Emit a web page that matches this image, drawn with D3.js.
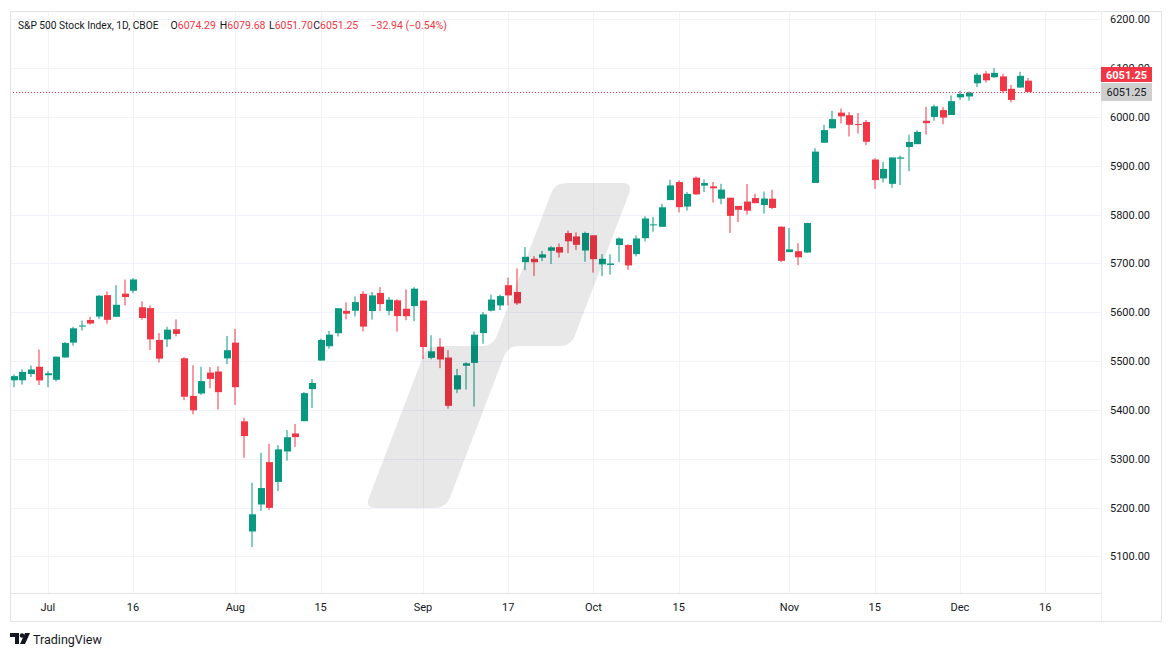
<!DOCTYPE html>
<html><head><meta charset="utf-8">
<script src="https://cdn.jsdelivr.net/npm/d3@7"></script>
<style>
html,body{margin:0;padding:0;background:#fff;}
svg{display:block;font-family:Roboto,"Noto Sans",sans-serif;}
</style></head><body>
<svg id="chart" width="1171" height="657"></svg>
<script>
const dates = [
"2024-06-25","2024-06-26","2024-06-27","2024-06-28",
"2024-07-01","2024-07-02","2024-07-03","2024-07-05","2024-07-08","2024-07-09","2024-07-10","2024-07-11","2024-07-12","2024-07-15","2024-07-16","2024-07-17","2024-07-18","2024-07-19","2024-07-22","2024-07-23","2024-07-24","2024-07-25","2024-07-26","2024-07-29","2024-07-30","2024-07-31",
"2024-08-01","2024-08-02","2024-08-05","2024-08-06","2024-08-07","2024-08-08","2024-08-09","2024-08-12","2024-08-13","2024-08-14","2024-08-15","2024-08-16","2024-08-19","2024-08-20","2024-08-21","2024-08-22","2024-08-23","2024-08-26","2024-08-27","2024-08-28","2024-08-29","2024-08-30",
"2024-09-03","2024-09-04","2024-09-05","2024-09-06","2024-09-09","2024-09-10","2024-09-11","2024-09-12","2024-09-13","2024-09-16","2024-09-17","2024-09-18","2024-09-19","2024-09-20","2024-09-23","2024-09-24","2024-09-25","2024-09-26","2024-09-27","2024-09-30",
"2024-10-01","2024-10-02","2024-10-03","2024-10-04","2024-10-07","2024-10-08","2024-10-09","2024-10-10","2024-10-11","2024-10-14","2024-10-15","2024-10-16","2024-10-17","2024-10-18","2024-10-21","2024-10-22","2024-10-23","2024-10-24","2024-10-25","2024-10-28","2024-10-29","2024-10-30","2024-10-31",
"2024-11-01","2024-11-04","2024-11-05","2024-11-06","2024-11-07","2024-11-08","2024-11-11","2024-11-12","2024-11-13","2024-11-14","2024-11-15","2024-11-18","2024-11-19","2024-11-20","2024-11-21","2024-11-22","2024-11-25","2024-11-26","2024-11-27","2024-11-29",
"2024-12-02","2024-12-03","2024-12-04","2024-12-05","2024-12-06","2024-12-09","2024-12-10","2024-12-11","2024-12-12"
];
const futureDates = ["2024-12-13","2024-12-16","2024-12-17","2024-12-18","2024-12-19","2024-12-20","2024-12-23","2024-12-24"];
const opens = [
5460.73,5460.71,5473.59,5488.48,
5471.08,5461.84,5507.44,5537.91,5572.75,5584.24,5591.26,5635.21,5590.75,5638.16,5644.09,5610.24,5608.56,5543.37,5544.54,5565.30,5505.84,5428.70,5433.67,5476.55,5478.73,5505.59,
5537.84,5376.63,5151.14,5206.42,5293.13,5252.57,5314.96,5351.88,5376.98,5442.71,5501.13,5530.50,5557.23,5602.88,5603.09,5637.77,5602.55,5639.66,5602.89,5624.51,5607.30,5612.74,
5623.89,5506.68,5529.30,5507.33,5442.07,5490.51,5496.42,5557.48,5603.34,5614.05,5655.51,5641.68,5702.63,5709.58,5711.90,5726.00,5733.57,5762.22,5755.36,5726.52,
5757.73,5698.19,5697.00,5737.81,5737.80,5719.14,5751.80,5778.36,5775.09,5829.81,5866.74,5816.58,5875.62,5859.43,5857.82,5832.70,5834.50,5817.80,5826.75,5833.93,5819.68,5832.65,5775.34,
5723.22,5725.15,5722.43,5864.89,5947.21,5976.76,6008.86,6003.60,5985.75,5989.68,5912.79,5874.17,5863.04,5914.61,5938.50,5944.36,5992.28,6000.03,6014.11,6003.98,
6040.11,6041.97,6069.00,6089.00,6081.38,6083.01,6057.59,6060.15,6074.29
];
const highs = [
5472.88,5483.14,5490.81,5523.64,
5479.55,5509.69,5539.27,5570.33,5583.11,5590.75,5635.39,5642.45,5655.56,5666.94,5669.67,5622.49,5614.05,5557.50,5570.36,5585.34,5508.04,5491.59,5488.32,5487.74,5489.46,5551.51,
5566.16,5383.89,5250.89,5312.34,5330.64,5328.03,5358.65,5371.20,5436.50,5463.22,5546.23,5561.98,5608.30,5620.51,5632.68,5643.22,5641.82,5651.62,5631.18,5627.03,5646.95,5651.37,
5623.89,5552.99,5546.93,5522.47,5484.20,5497.91,5560.41,5600.71,5636.27,5636.05,5670.81,5689.75,5733.57,5715.14,5725.36,5735.32,5741.03,5767.37,5763.78,5765.14,
5757.73,5719.14,5718.78,5753.35,5739.34,5757.60,5796.80,5795.03,5822.13,5871.41,5870.36,5846.52,5878.46,5872.17,5866.92,5863.04,5834.85,5817.80,5862.82,5842.92,5847.19,5850.94,5775.34,
5772.52,5741.43,5783.44,5936.14,5983.84,6012.45,6017.31,6009.92,6008.19,5993.88,5915.26,5908.12,5917.11,5920.67,5963.54,5972.90,6020.75,6025.42,6020.16,6044.17,
6053.58,6052.11,6089.84,6094.50,6099.97,6088.51,6065.40,6092.59,6079.68
];
const lows = [
5446.56,5451.87,5467.54,5451.12,
5446.53,5458.43,5507.42,5531.63,5562.51,5574.57,5586.44,5576.53,5590.44,5614.05,5639.02,5584.81,5522.81,5497.04,5529.04,5550.90,5419.98,5390.95,5430.70,5444.44,5401.14,5493.75,
5410.42,5302.03,5119.26,5193.56,5195.54,5233.85,5296.19,5324.37,5376.98,5404.13,5501.13,5525.46,5550.74,5585.50,5591.57,5560.95,5585.16,5602.34,5593.48,5560.20,5583.71,5581.79,
5504.33,5503.66,5485.57,5402.62,5434.49,5441.72,5406.96,5535.50,5601.65,5604.53,5614.05,5615.08,5686.42,5674.49,5704.94,5698.99,5712.06,5721.01,5727.34,5703.53,
5681.28,5674.00,5677.04,5702.83,5686.85,5714.56,5745.02,5764.76,5775.09,5829.81,5804.48,5808.34,5840.25,5846.11,5824.83,5821.17,5762.41,5784.92,5799.98,5823.08,5802.17,5811.28,5702.86,
5723.22,5696.51,5722.10,5864.89,5947.21,5976.76,5986.69,5960.08,5965.91,5942.28,5853.01,5865.95,5855.02,5860.58,5889.00,5944.36,5963.91,5992.27,5984.87,6003.98,
6035.33,6033.39,6061.06,6070.50,6079.98,6048.63,6029.89,6060.15,6051.70
];
const closes = [
5469.30,5477.90,5482.87,5460.48,
5475.09,5509.01,5537.02,5567.19,5572.85,5576.98,5633.91,5584.54,5615.35,5631.22,5667.20,5588.27,5544.59,5505.00,5564.41,5555.74,5427.13,5399.22,5459.10,5463.54,5436.44,5522.30,
5446.68,5346.56,5186.33,5240.03,5199.50,5319.31,5344.16,5344.39,5434.43,5455.21,5543.22,5554.25,5608.25,5597.12,5620.85,5570.64,5634.61,5616.84,5625.80,5592.18,5591.96,5648.40,
5528.93,5520.07,5503.41,5408.42,5471.05,5495.52,5554.13,5595.76,5626.02,5633.09,5634.58,5618.26,5713.64,5702.55,5718.57,5732.93,5722.26,5745.37,5738.17,5762.48,
5708.75,5709.54,5699.94,5751.07,5695.94,5751.13,5792.04,5780.05,5815.03,5859.85,5815.26,5842.47,5841.47,5864.67,5853.98,5851.20,5797.42,5809.86,5808.12,5823.52,5832.92,5813.67,5705.45,
5728.80,5712.69,5782.76,5929.04,5973.10,5995.54,6001.35,5983.99,5985.38,5949.17,5870.62,5893.62,5916.98,5917.11,5948.71,5969.34,5987.37,6021.63,5998.74,6032.38,
6047.15,6049.88,6086.49,6075.11,6090.27,6052.85,6034.91,6084.19,6051.25
];
const yTicks = [5100,5200,5300,5400,5500,5600,5700,5800,5900,6000,6100,6200];
const xTickDates = ["2024-07-01","2024-07-16","2024-08-01","2024-08-15","2024-09-03","2024-09-17","2024-10-01","2024-10-15","2024-11-01","2024-11-15","2024-12-02","2024-12-16"];
const xTickLabels = ["Jul","16","Aug","15","Sep","17","Oct","15","Nov","15","Dec","16"];
const titleName = "S&P 500 Stock Index, 1D, CBOE";
const ohlcLetters = ["O","H","L","C"];
const ohlcValues = ["6074.29","6079.68","6051.70","6051.25"];
const changeText = "\u221232.94 (\u22120.54%)";
const lastPrice = 6051.25;

const svg = d3.select("#chart");
const UP = "#089981", DOWN = "#f23645", TXT = "#131722", GRID = "#f0f3fa", BORDER = "#e0e3eb";
const plot = {l:10, r:1101, t:11, b:593};

const allDates = dates.concat(futureDates);
const step = 8.525, x0 = 47.8;
const firstIdx = -4;
const x = d3.scalePoint().domain(allDates)
  .range([x0 + firstIdx*step, x0 + (firstIdx + allDates.length - 1)*step]);
const y = d3.scaleLinear().domain([5100, 6200]).range([556.45, 19.3]);

svg.append("rect").attr("width",1171).attr("height",657).attr("fill","#fff");

// grid
const grid = svg.append("g");
grid.selectAll("line.h").data(yTicks).join("line")
  .attr("x1", plot.l).attr("x2", plot.r)
  .attr("y1", d => Math.round(y(d))+0.5).attr("y2", d => Math.round(y(d))+0.5)
  .attr("stroke", GRID).attr("stroke-width",1);
grid.selectAll("line.v").data(xTickDates).join("line")
  .attr("x1", d => Math.round(x(d))+0.5).attr("x2", d => Math.round(x(d))+0.5)
  .attr("y1", plot.t).attr("y2", plot.b)
  .attr("stroke", GRID).attr("stroke-width",1);

// candles
svg.append("clipPath").attr("id","clip").append("rect")
  .attr("x",plot.l).attr("y",plot.t).attr("width",plot.r-plot.l).attr("height",plot.b-plot.t);
const data = dates.map((d,i)=>({d, o:opens[i], h:highs[i], l:lows[i], c:closes[i]}));
const cg = svg.append("g").attr("clip-path","url(#clip)");
const bw = 6;
const candle = cg.selectAll("g.c").data(data).join("g");
candle.append("rect")
  .attr("x", d => Math.round(x(d.d)) - 0.5)
  .attr("y", d => y(d.h)).attr("width", 1)
  .attr("height", d => Math.max(1, y(d.l)-y(d.h)))
  .attr("fill", d => d.c >= d.o ? UP : DOWN);
candle.append("rect")
  .attr("x", d => Math.round(x(d.d)) - bw/2)
  .attr("y", d => y(Math.max(d.o,d.c)))
  .attr("width", bw + 1)
  .attr("height", d => Math.max(1, Math.abs(y(d.o)-y(d.c))))
  .attr("fill", d => d.c >= d.o ? UP : DOWN);

// watermark
function roundedPath(pts, r){
  let s = ""; const n = pts.length;
  for(let i=0;i<n;i++){
    const p0=pts[(i-1+n)%n], p1=pts[i], p2=pts[(i+1)%n];
    const v1=[p0[0]-p1[0],p0[1]-p1[1]], l1=Math.hypot(v1[0],v1[1]);
    const v2=[p2[0]-p1[0],p2[1]-p1[1]], l2=Math.hypot(v2[0],v2[1]);
    const rr=Math.min(r,l1/2,l2/2);
    const a=[p1[0]+v1[0]/l1*rr,p1[1]+v1[1]/l1*rr], b=[p1[0]+v2[0]/l2*rr,p1[1]+v2[1]/l2*rr];
    s += (i===0?"M":"L")+a[0]+","+a[1]+"Q"+p1[0]+","+p1[1]+" "+b[0]+","+b[1];
  }
  return s+"Z";
}
const wm = [[555,183],[633,183],[571,346],[508,346],[446,508],[365,508],[427,346],[493,346]];
svg.append("path").attr("d", roundedPath(wm, 11)).attr("fill","#000").attr("fill-opacity",0.092);

// last price line
svg.append("line").attr("x1",plot.l).attr("x2",plot.r)
  .attr("y1", Math.round(y(lastPrice))+0.5).attr("y2", Math.round(y(lastPrice))+0.5)
  .attr("stroke", DOWN).attr("stroke-width",1).attr("stroke-dasharray","1,2");

// borders
svg.append("rect").attr("x",10.5).attr("y",11.5).attr("width",1151).attr("height",610)
  .attr("fill","none").attr("stroke",BORDER);
svg.append("line").attr("x1",10).attr("x2",1101).attr("y1",593.5).attr("y2",593.5).attr("stroke",BORDER);
svg.append("line").attr("x1",1101.5).attr("x2",1101.5).attr("y1",11).attr("y2",621).attr("stroke","#eceef2");

// y labels
svg.selectAll("text.yl").data(yTicks).join("text")
  .attr("x",1110).attr("y", d => y(d)+4)
  .attr("font-size",11).attr("fill",TXT).text(d => d.toFixed(2));

// x labels
svg.selectAll("text.xl").data(xTickDates).join("text")
  .attr("x", d => x(d)).attr("y", 611).attr("text-anchor","middle")
  .attr("font-size",11).attr("fill",TXT).text((d,i)=>xTickLabels[i]);

// price boxes
svg.append("rect").attr("x",1101).attr("y",67).attr("width",51).attr("height",15).attr("fill",DOWN);
svg.append("text").attr("x",1126.5).attr("y",78.5).attr("text-anchor","middle").attr("font-size",11)
  .attr("font-weight","bold").attr("fill","#fff").text(lastPrice.toFixed(2));
svg.append("rect").attr("x",1101).attr("y",83).attr("width",51).attr("height",18).attr("fill","#cfcfcf");
svg.append("text").attr("x",1126.5).attr("y",96).attr("text-anchor","middle").attr("font-size",11)
  .attr("fill",TXT).text(lastPrice.toFixed(2));

// title
const tg = svg.append("g");
tg.append("text").attr("x",18).attr("y",29).attr("font-size",10.2).attr("fill",TXT).text(titleName);
const lx = [170.5, 219.8, 269, 313.2];
ohlcLetters.forEach((L,i)=>{
  const t = tg.append("text").attr("x",lx[i]).attr("y",29).attr("font-size",10.5);
  t.append("tspan").attr("fill",TXT).text(L);
  t.append("tspan").attr("fill",DOWN).text(ohlcValues[i]);
});
tg.append("text").attr("x",370.5).attr("y",29).attr("font-size",10.5).attr("fill",DOWN).text(changeText);

// logo
const lg = svg.append("g").attr("fill",TXT);
lg.append("path").attr("d","M10,633H19V644H15V637H10Z");
lg.append("circle").attr("cx",22).attr("cy",635.5).attr("r",2.2);
lg.append("path").attr("d","M25,633H30L25,644H20Z");
lg.append("text").attr("x",33).attr("y",644).attr("font-size",12.5).attr("fill",TXT).text("TradingView");
</script>
</body></html>
